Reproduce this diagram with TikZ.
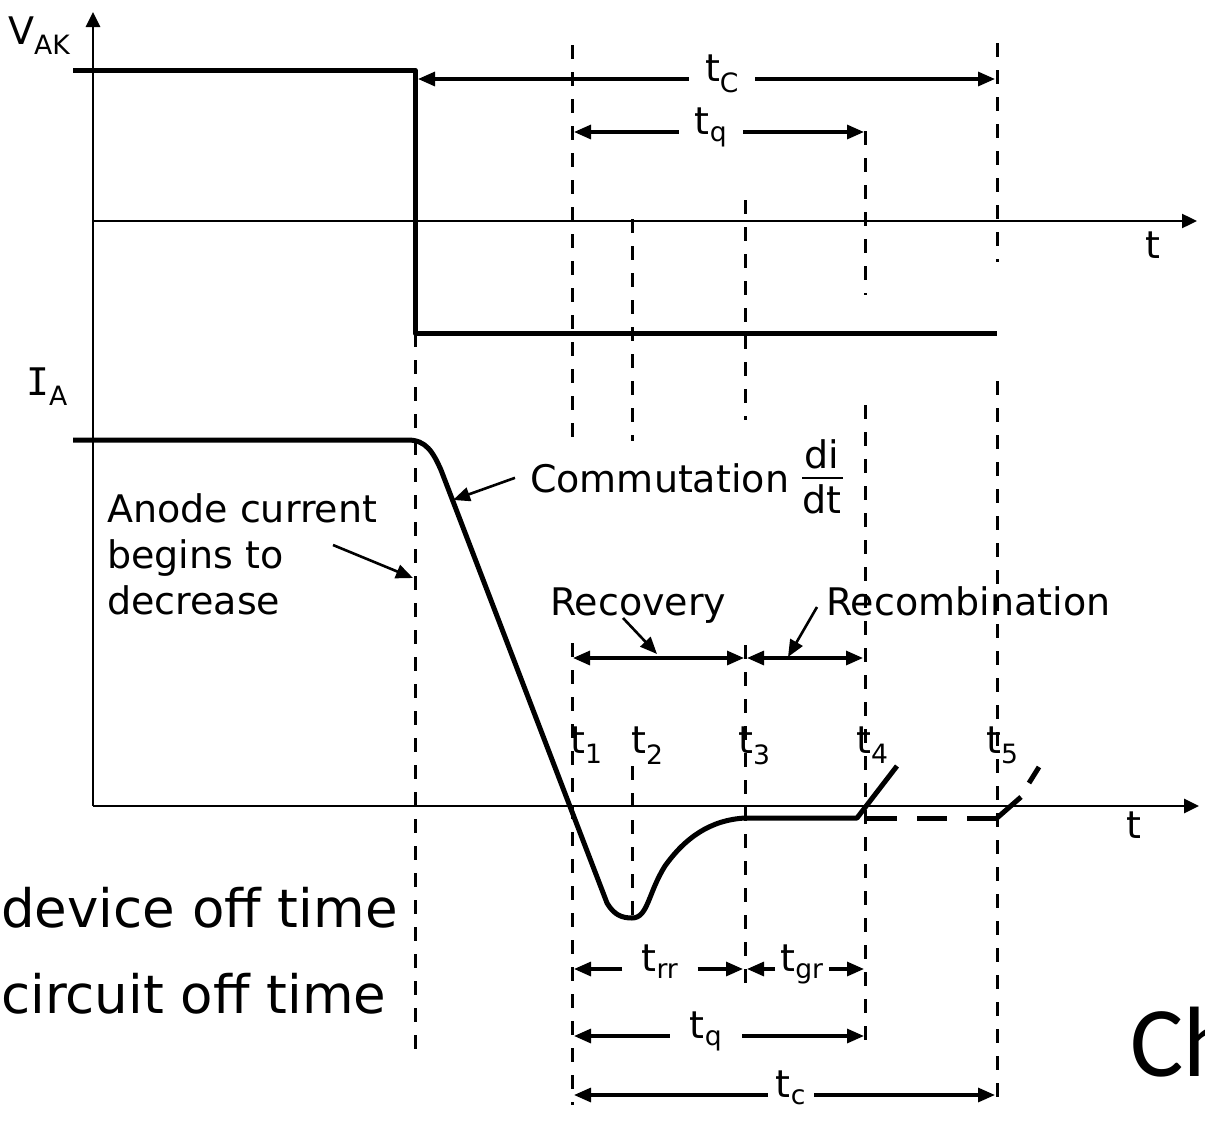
\documentclass[tikz,border=0pt]{standalone}
\usepackage{fontspec}
\setmainfont{DejaVu Sans}
\newfontfamily\calib{Carlito}
\newfontfamily\serifI{DejaVu Sans Mono}
\usetikzlibrary{arrows.meta}
\begin{document}
\begin{tikzpicture}[x=1pt,y=-1pt,
 axisline/.style={line width=2.8pt,-{Triangle[length=15pt,width=14pt]}},
 zeroline/.style={line width=2.4pt,-{Triangle[length=15pt,width=14pt]}},
 wave/.style={line width=5pt,line join=round},
 guide/.style={line width=3pt,dash pattern=on 14pt off 13pt},
 dimarrow/.style={line width=3.2pt,-{Triangle[length=17pt,width=14pt]}},
 dimboth/.style={line width=3.2pt,{Triangle[length=17pt,width=14pt]}-{Triangle[length=17pt,width=14pt]}},
 ptr/.style={line width=2.6pt,-{Triangle[length=17pt,width=14pt]}},
 lbl/.style={inner sep=0pt,font=\fontsize{38}{45}\selectfont},
 tlbl/.style={inner ysep=0pt,anchor=mid,font=\fontsize{38}{45}\selectfont},
 big/.style={inner sep=0pt,font=\fontsize{53}{60}\selectfont}]
\useasboundingbox (0,0) rectangle (1205,1127);
\clip (0,0) rectangle (1205,1127);

% guide lines
\foreach \x/\a/\b in {415/333/1055, 572/45/437, 572/643/1105, 632/219/441, 632/766/918,
  745/200/420, 745/645/985, 865/131/295, 865/405/1045, 997/43/262, 997/381/1105}
  \draw[guide] (\x,\a) -- (\x,\b);

% axes
\coordinate (org) at (93,806);
\coordinate (ytop) at (93,12);
\coordinate (vz0) at (93,221);
\coordinate (vzE) at (1197,221);
\coordinate (izE) at (1199,806);
\draw[axisline] (org) -- (ytop);
\draw[zeroline] (vz0) -- (vzE);
\draw[axisline] (org) -- (izE);

% waveforms
\draw[wave] (73,70) -- (415,70) -- (415,333) -- (997,333);
\draw[wave] (73,440) -- (408,440) .. controls (426,440) and (433,452) .. (441,470)
  -- (607,903) .. controls (614,915) and (622,918) .. (632,918)
  .. controls (648,918) and (648,893) .. (665,866)
  .. controls (685,838) and (710,820) .. (745,818) -- (857,818) -- (897,766);
\draw[wave,dash pattern=on 30pt off 20pt] (867,818) -- (997,818);
\draw[wave] (997,818) -- (1021,797);
\draw[wave] (1029,783) -- (1039,767);

% axis labels
\node[lbl,anchor=base west] (vak) at (8,44) {V\textsubscript{AK}};
\node[lbl,anchor=base west] (ia) at (26,395) {{\serifI I}\textsubscript{A}};
\node[lbl,anchor=base] (tup) at (1153,258) {t};
\node[lbl,anchor=base] (tlo) at (1134,838) {t};

% instants
\node[lbl,anchor=base west] (t1) at (570,753) {t\textsubscript{1}};
\node[lbl,anchor=base west] (t2) at (631,753) {t\textsubscript{2}};
\node[lbl,anchor=base west] (t3) at (738,753) {t\textsubscript{3}};
\node[lbl,anchor=base west] (t4) at (856,753) {t\textsubscript{4}};
\node[lbl,anchor=base west] (t5) at (986,753) {t\textsubscript{5}};

% top dimension arrows
\coordinate (tCL) at (418,79); \coordinate (tCR) at (995,79);
\node[tlbl,inner xsep=16pt] (tC) at (722,79) {t\textsubscript{C}};
\draw[dimarrow] (tC.west |- tCL) -- (tCL);
\draw[dimarrow] (tC.east |- tCR) -- (tCR);
\coordinate (tqL) at (574,132); \coordinate (tqR) at (864,132);
\node[tlbl,inner xsep=16pt] (tq) at (711,132) {t\textsubscript{q}};
\draw[dimarrow] (tq.west |- tqL) -- (tqL);
\draw[dimarrow] (tq.east |- tqR) -- (tqR);

% bottom dimension arrows
\coordinate (trrL) at (574,969); \coordinate (trrR) at (743,969);
\node[tlbl,inner xsep=19pt] (trr) at (660,969) {t\textsubscript{rr}};
\draw[dimarrow] (trr.west |- trrL) -- (trrL);
\draw[dimarrow] (trr.east |- trrR) -- (trrR);
\coordinate (tgrL) at (747,969); \coordinate (tgrR) at (864,969);
\node[tlbl,inner xsep=5pt] (tgr) at (802,969) {t\textsubscript{gr}};
\draw[dimarrow] (tgr.west |- tgrL) -- (tgrL);
\draw[dimarrow] (tgr.east |- tgrR) -- (tgrR);
\coordinate (tq2L) at (574,1036); \coordinate (tq2R) at (864,1036);
\node[tlbl,inner xsep=20pt] (tq2) at (706,1036) {t\textsubscript{q}};
\draw[dimarrow] (tq2.west |- tq2L) -- (tq2L);
\draw[dimarrow] (tq2.east |- tq2R) -- (tq2R);
\coordinate (tcL) at (574,1095); \coordinate (tcR) at (995,1095);
\node[tlbl,inner xsep=8pt] (tc) at (791,1095) {t\textsubscript{c}};
\draw[dimarrow] (tc.west |- tcL) -- (tcL);
\draw[dimarrow] (tc.east |- tcR) -- (tcR);

% recovery / recombination spans
\coordinate (r1) at (573,658); \coordinate (r3a) at (744,658);
\coordinate (r3b) at (747,658); \coordinate (r4) at (863,658);
\draw[dimboth] (r1) -- (r3a);
\draw[dimboth] (r3b) -- (r4);

% labels with pointers
\node[lbl,anchor=base west] (rec) at (550,615) {Recovery};
\node[lbl,anchor=base west] (recomb) at (826,615) {Recombination};
\coordinate (recS) at (623,618); \coordinate (recT) at (657,654);
\coordinate (rcbS) at (817,607); \coordinate (rcbT) at (788,657);
\draw[ptr] (recS) -- (recT);
\draw[ptr] (rcbS) -- (rcbT);

\node[lbl,anchor=base west] (comm) at (530,492) {Commutation};
\node[lbl,anchor=base] (di) at (822,468) {di};
\node[lbl,anchor=base] (dt) at (822,513) {dt};
\coordinate (barL) at (802,478); \coordinate (barR) at (843,478);
\draw[line width=2.8pt] (barL) -- (barR);
\coordinate (commT) at (453,500);
\draw[ptr] ([xshift=-15pt]comm.west) -- (commT);

\node[lbl,anchor=base west] (an1) at (107,522) {Anode current};
\node[lbl,anchor=base west] (an2) at (107,568) {begins to};
\node[lbl,anchor=base west] (an3) at (107,614) {decrease};
\coordinate (anS) at (333,545); \coordinate (anT) at (413,578);
\draw[ptr] (anS) -- (anT);

\node[big,anchor=base west] (dev) at (1,927) {device off time};
\node[big,anchor=base west] (cir) at (1,1013) {circuit off time};

\node[inner sep=0pt,anchor=base west,font=\calib\fontsize{100}{110}\selectfont] (ch) at (1130,1076) {Ch};
\end{tikzpicture}
\end{document}
